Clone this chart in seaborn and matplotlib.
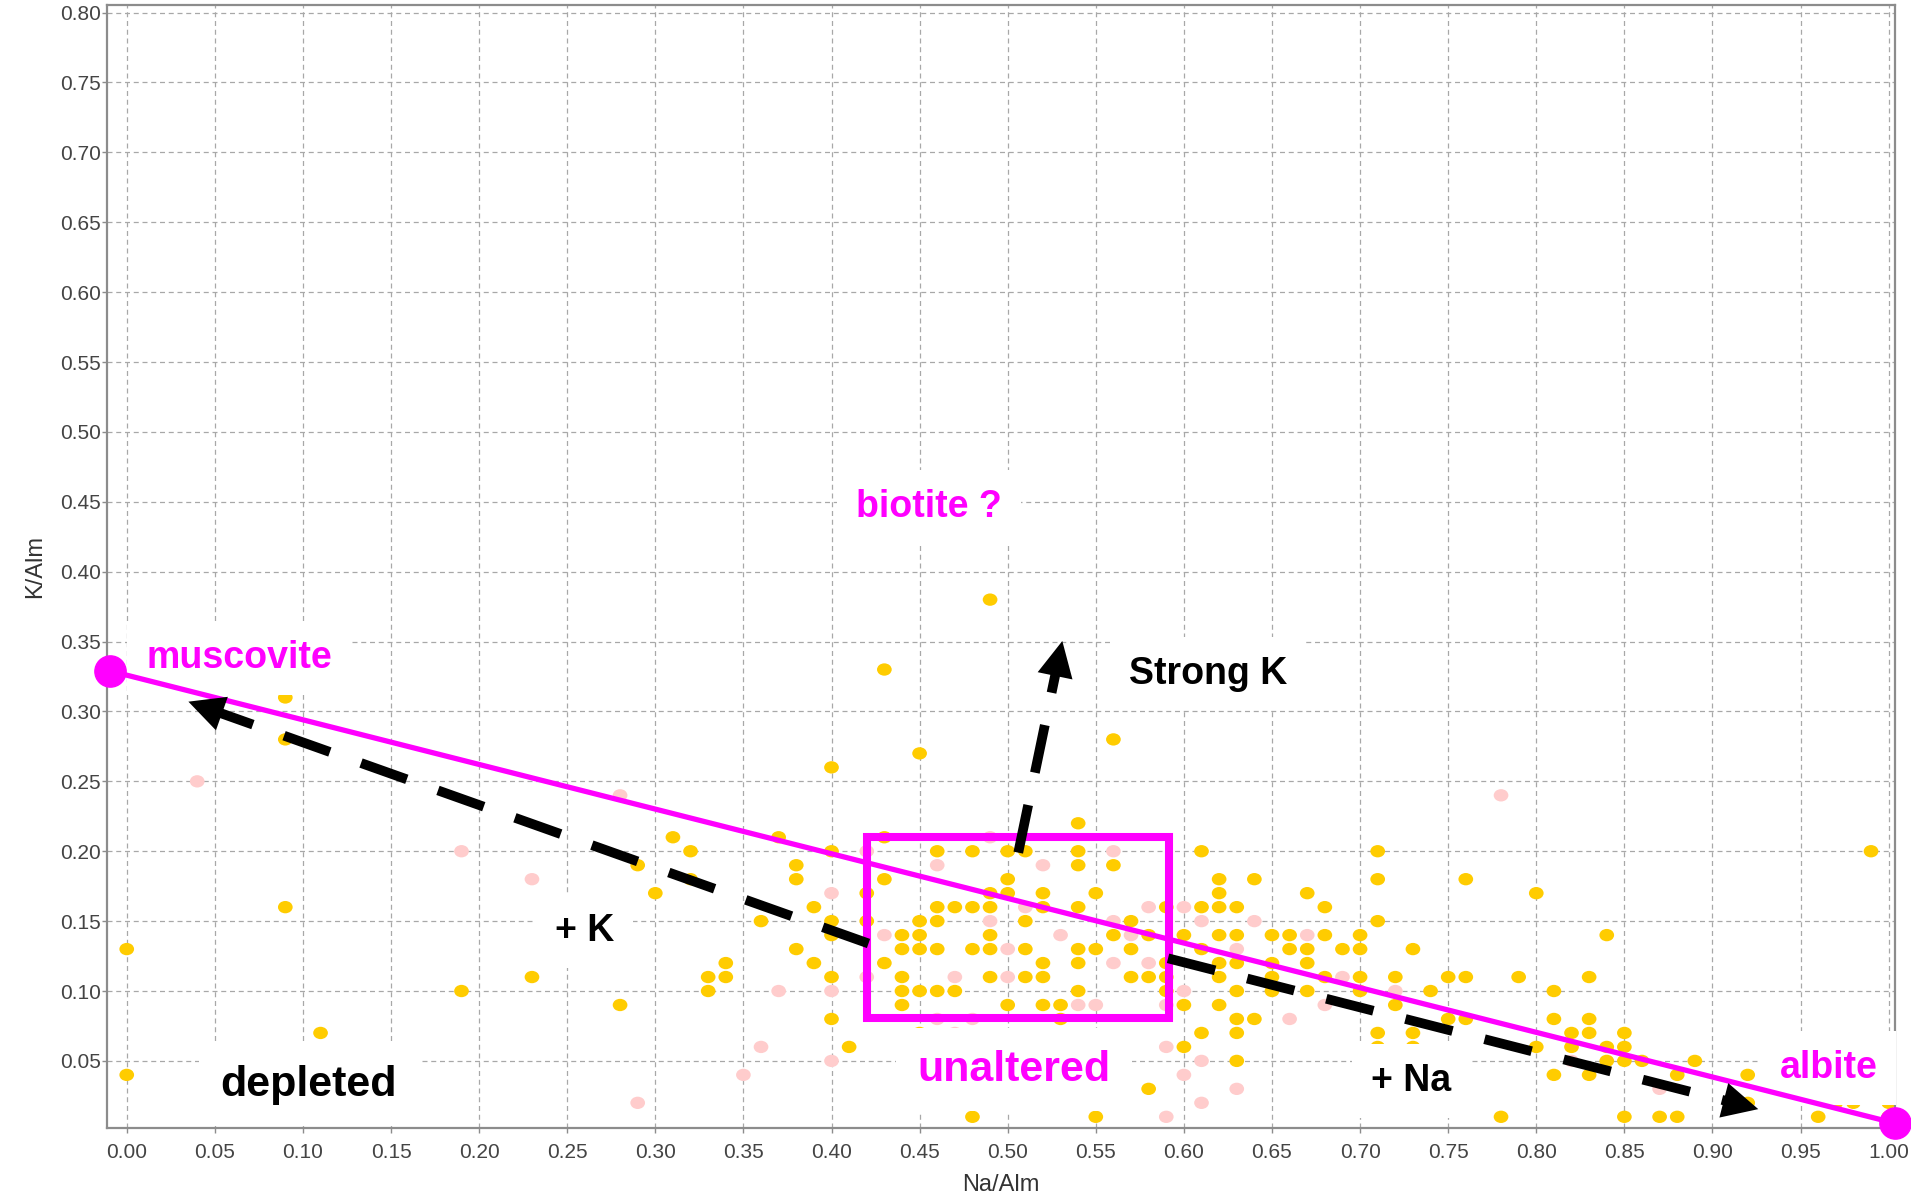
import numpy as np
import pandas as pd
import matplotlib
matplotlib.use("Agg")
import matplotlib.pyplot as plt
from matplotlib.path import Path
from matplotlib.patches import Rectangle
import seaborn as sns

# ---------------- data ----------------
yellow_na = [
    0.00, 0.00,
    0.09, 0.09, 0.09,
    0.11, 0.19, 0.23, 0.28, 0.29, 0.30, 0.31,
    0.32, 0.32,
    0.33, 0.33,
    0.34, 0.34,
    0.36, 0.37,
    0.38, 0.38, 0.38,
    0.39, 0.39,
    0.40, 0.40, 0.40, 0.40, 0.40, 0.40,
    0.41,
    0.42, 0.42,
    0.43, 0.43, 0.43, 0.43,
    0.44, 0.44, 0.44, 0.44, 0.44,
    0.45, 0.45, 0.45, 0.45, 0.45, 0.45,
    0.46, 0.46, 0.46, 0.46, 0.46,
    0.47, 0.47,
    0.48, 0.48, 0.48, 0.48,
    0.49, 0.49, 0.49, 0.49, 0.49, 0.49,
    0.50, 0.50, 0.50, 0.50,
    0.51, 0.51, 0.51, 0.51,
    0.52, 0.52, 0.52, 0.52, 0.52,
    0.53, 0.53,
    0.54, 0.54, 0.54, 0.54, 0.54, 0.54, 0.54,
    0.55, 0.55, 0.55,
    0.56, 0.56, 0.56,
    0.57, 0.57, 0.57,
    0.58, 0.58, 0.58,
    0.59, 0.59, 0.59, 0.59,
    0.60, 0.60, 0.60,
    0.61, 0.61, 0.61, 0.61,
    0.62, 0.62, 0.62, 0.62, 0.62, 0.62, 0.62,
    0.63, 0.63, 0.63, 0.63, 0.63, 0.63, 0.63,
    0.64, 0.64,
    0.65, 0.65, 0.65, 0.65,
    0.66, 0.66,
    0.67, 0.67, 0.67, 0.67,
    0.68, 0.68, 0.68,
    0.69,
    0.70, 0.70, 0.70, 0.70,
    0.71, 0.71, 0.71, 0.71, 0.71,
    0.72, 0.72,
    0.73, 0.73, 0.73,
    0.74,
    0.75, 0.75,
    0.76, 0.76, 0.76,
    0.78, 0.79,
    0.80, 0.80,
    0.81, 0.81, 0.81,
    0.82, 0.82,
    0.83, 0.83, 0.83, 0.83,
    0.84, 0.84, 0.84,
    0.85, 0.85, 0.85, 0.85,
    0.86, 0.87,
    0.88, 0.88,
    0.89,
    0.92, 0.92,
    0.96, 0.97, 0.98, 0.99,
    1.00, 1.00,
]
yellow_k = [
    0.13, 0.04,
    0.31, 0.28, 0.16,
    0.07, 0.10, 0.11, 0.09, 0.19, 0.17, 0.21,
    0.20, 0.18,
    0.11, 0.10,
    0.12, 0.11,
    0.15, 0.21,
    0.19, 0.18, 0.13,
    0.16, 0.12,
    0.26, 0.20, 0.15, 0.14, 0.11, 0.08,
    0.06,
    0.17, 0.15,
    0.33, 0.21, 0.18, 0.12,
    0.14, 0.13, 0.11, 0.10, 0.09,
    0.27, 0.15, 0.14, 0.13, 0.10, 0.07,
    0.20, 0.16, 0.15, 0.13, 0.10,
    0.16, 0.10,
    0.20, 0.16, 0.13, 0.01,
    0.38, 0.17, 0.16, 0.14, 0.13, 0.11,
    0.20, 0.18, 0.17, 0.09,
    0.20, 0.15, 0.13, 0.11,
    0.17, 0.16, 0.12, 0.11, 0.09,
    0.09, 0.08,
    0.22, 0.20, 0.19, 0.16, 0.13, 0.12, 0.10,
    0.17, 0.13, 0.01,
    0.28, 0.19, 0.14,
    0.15, 0.13, 0.11,
    0.14, 0.11, 0.03,
    0.16, 0.12, 0.11, 0.10,
    0.14, 0.09, 0.06,
    0.20, 0.16, 0.13, 0.07,
    0.18, 0.17, 0.16, 0.14, 0.12, 0.11, 0.09,
    0.16, 0.14, 0.12, 0.10, 0.08, 0.07, 0.05,
    0.18, 0.08,
    0.14, 0.12, 0.11, 0.10,
    0.14, 0.13,
    0.17, 0.13, 0.12, 0.10,
    0.16, 0.14, 0.11,
    0.13,
    0.14, 0.13, 0.11, 0.10,
    0.20, 0.18, 0.15, 0.07, 0.06,
    0.11, 0.09,
    0.13, 0.07, 0.06,
    0.10,
    0.11, 0.08,
    0.18, 0.11, 0.08,
    0.01, 0.11,
    0.17, 0.06,
    0.10, 0.08, 0.04,
    0.07, 0.06,
    0.11, 0.08, 0.07, 0.04,
    0.14, 0.06, 0.05,
    0.07, 0.06, 0.05, 0.01,
    0.05, 0.01,
    0.04, 0.01,
    0.05,
    0.04, 0.02,
    0.01, 0.02, 0.02, 0.20,
    0.02, 0.01,
]
pink_na = [
    0.04, 0.19, 0.23, 0.28, 0.29, 0.35, 0.36, 0.37,
    0.40, 0.40, 0.40,
    0.42, 0.42,
    0.43,
    0.46, 0.46,
    0.47, 0.47,
    0.48,
    0.49, 0.49,
    0.50, 0.50,
    0.51, 0.52, 0.53, 0.54, 0.55,
    0.56, 0.56, 0.56,
    0.57,
    0.58, 0.58,
    0.59, 0.59, 0.59,
    0.60, 0.60, 0.60,
    0.61, 0.61, 0.61,
    0.63, 0.63,
    0.64, 0.66, 0.67, 0.68, 0.69, 0.72, 0.78, 0.82, 0.87,
]
pink_k = [
    0.25, 0.20, 0.18, 0.24, 0.02, 0.04, 0.06, 0.10,
    0.17, 0.10, 0.05,
    0.20, 0.11,
    0.14,
    0.19, 0.08,
    0.11, 0.07,
    0.08,
    0.21, 0.15,
    0.13, 0.11,
    0.16, 0.19, 0.14, 0.09, 0.09,
    0.20, 0.15, 0.12,
    0.14,
    0.16, 0.12,
    0.09, 0.06, 0.01,
    0.16, 0.10, 0.04,
    0.15, 0.05, 0.02,
    0.13, 0.03,
    0.15, 0.08, 0.14, 0.09, 0.11, 0.10, 0.24, 0.05, 0.03,
]

# end-members (muscovite, albite) joined by the magenta line
member_names = ["muscovite", "albite"]
member_na = [-0.0095, 1.0036]
member_k = [0.329, 0.0054]

# "unaltered" box corners (Na/Alm, K/Alm)
box_na = [0.420, 0.5916]
box_k = [0.0806, 0.2099]

# dashed arrows: start point and tip (Na/Alm, K/Alm)
arrow_start_na = [0.421, 0.591, 0.506]
arrow_start_k = [0.134, 0.1234, 0.199]
arrow_tip_na = [0.035, 0.926, 0.531]
arrow_tip_k = [0.307, 0.0155, 0.3504]

# annotation labels
label_text = ["muscovite", "biotite ?", "Strong K", "+ K", "+ Na", "albite", "unaltered", "depleted"]
label_na = [0.011, 0.414, 0.5686, 0.243, 0.706, 0.938, 0.449, 0.0533]
label_k = [0.338, 0.4465, 0.327, 0.143, 0.0357, 0.045, 0.0436, 0.033]
label_size = [27, 27, 27, 27, 27, 27, 31, 31]
label_color = ["#FF00FF", "#FF00FF", "black", "black", "black", "#FF00FF", "#FF00FF", "black"]

x_ticks = [0.00, 0.05, 0.10, 0.15, 0.20, 0.25, 0.30, 0.35, 0.40, 0.45, 0.50,
           0.55, 0.60, 0.65, 0.70, 0.75, 0.80, 0.85, 0.90, 0.95, 1.00]
y_ticks = [0.05, 0.10, 0.15, 0.20, 0.25, 0.30, 0.35, 0.40, 0.45, 0.50,
           0.55, 0.60, 0.65, 0.70, 0.75, 0.80]

# ---------------- figure ----------------
sns.set_theme(style="white")
plt.rcParams["font.family"] = ["Liberation Sans", "DejaVu Sans"]

W, H = 1911, 1201
fig = plt.figure(figsize=(W / 100, H / 100), dpi=100)
fig.patch.set_facecolor("white")
ax = fig.add_axes([107 / W, 1 - 1128 / H, (1895 - 107) / W, (1128 - 5) / H])

df = pd.DataFrame({
    "Na/Alm": pink_na + yellow_na,
    "K/Alm": pink_k + yellow_k,
    "group": ["pink"] * len(pink_na) + ["yellow"] * len(yellow_na),
})

circ = Path.unit_circle()
ellipse = Path(circ.vertices * np.array([1.0, 0.84]), circ.codes)

sns.scatterplot(data=df, x="Na/Alm", y="K/Alm", hue="group",
                palette={"pink": "#FFCCCC", "yellow": "#FFCC00"},
                marker=ellipse, s=112, linewidth=0, legend=False, ax=ax, zorder=2)

ax.set_xlim(-0.0112, 1.0036)
ax.set_ylim(0.002, 0.8054)

ax.set_xticks(x_ticks)
ax.set_xticklabels([f"{v:.2f}" for v in x_ticks])
ax.set_yticks(y_ticks)
ax.set_yticklabels([f"{v:.2f}" for v in y_ticks])
ax.tick_params(axis="both", which="major", bottom=True, left=True, direction="out",
               length=3.6, width=1.0, color="#8c8c8c", labelsize=15, labelcolor="#444444")
ax.tick_params(axis="x", pad=7)
ax.tick_params(axis="y", pad=1)

ax.grid(True, color="#a8a8a8", linestyle=(0, (4, 3)), linewidth=0.9)
ax.set_axisbelow(True)
for sp in ax.spines.values():
    sp.set_visible(True)
    sp.set_color("#8c8c8c")
    sp.set_linewidth(1.6)

ax.set_xlabel("Na/Alm", fontsize=17, color="#333333")
ax.set_ylabel("K/Alm", fontsize=17, color="#333333")
ax.xaxis.set_label_coords(0.5, -0.041)
ax.yaxis.set_label_coords(-0.034, 0.5)

# labels with white boxes
for t, x, y, fs, c in zip(label_text, label_na, label_k, label_size, label_color):
    ax.text(x, y, t, fontsize=fs, fontweight="bold", color=c, ha="left", va="center",
            zorder=3, bbox=dict(boxstyle="square,pad=0.5", fc="white", ec="none"))

# magenta mixing line and box
ax.plot(member_na, member_k, color="#FF00FF", lw=3.8, zorder=4, solid_capstyle="butt")
ax.add_patch(Rectangle((box_na[0], box_k[0]), box_na[1] - box_na[0], box_k[1] - box_k[0],
                       fill=False, edgecolor="#FF00FF", lw=5.8, zorder=4, joinstyle="miter"))

# dashed arrows
head_px = 35
for sx, sy, tx, ty in zip(arrow_start_na, arrow_start_k, arrow_tip_na, arrow_tip_k):
    p0 = ax.transData.transform((sx, sy))
    p1 = ax.transData.transform((tx, ty))
    d = (p1 - p0) / np.hypot(*(p1 - p0))
    base = ax.transData.inverted().transform(p1 - d * head_px * 0.92)
    ax.plot([sx, base[0]], [sy, base[1]], color="black", lw=7.0,
            linestyle=(0, (5.0, 3.4)), dash_capstyle="butt", zorder=5)
    ax.annotate("", xy=(tx, ty), xytext=(sx, sy),
                arrowprops=dict(arrowstyle="-|>,head_length=0.4,head_width=0.2",
                                mutation_scale=64, color="black", lw=0,
                                shrinkA=0, shrinkB=0), zorder=5)

# end-member markers
ax.plot(member_na, member_k, "o", ms=22.5, color="#FF00FF", clip_on=False, zorder=6)

fig.savefig("out.png", dpi=100, facecolor="white")
